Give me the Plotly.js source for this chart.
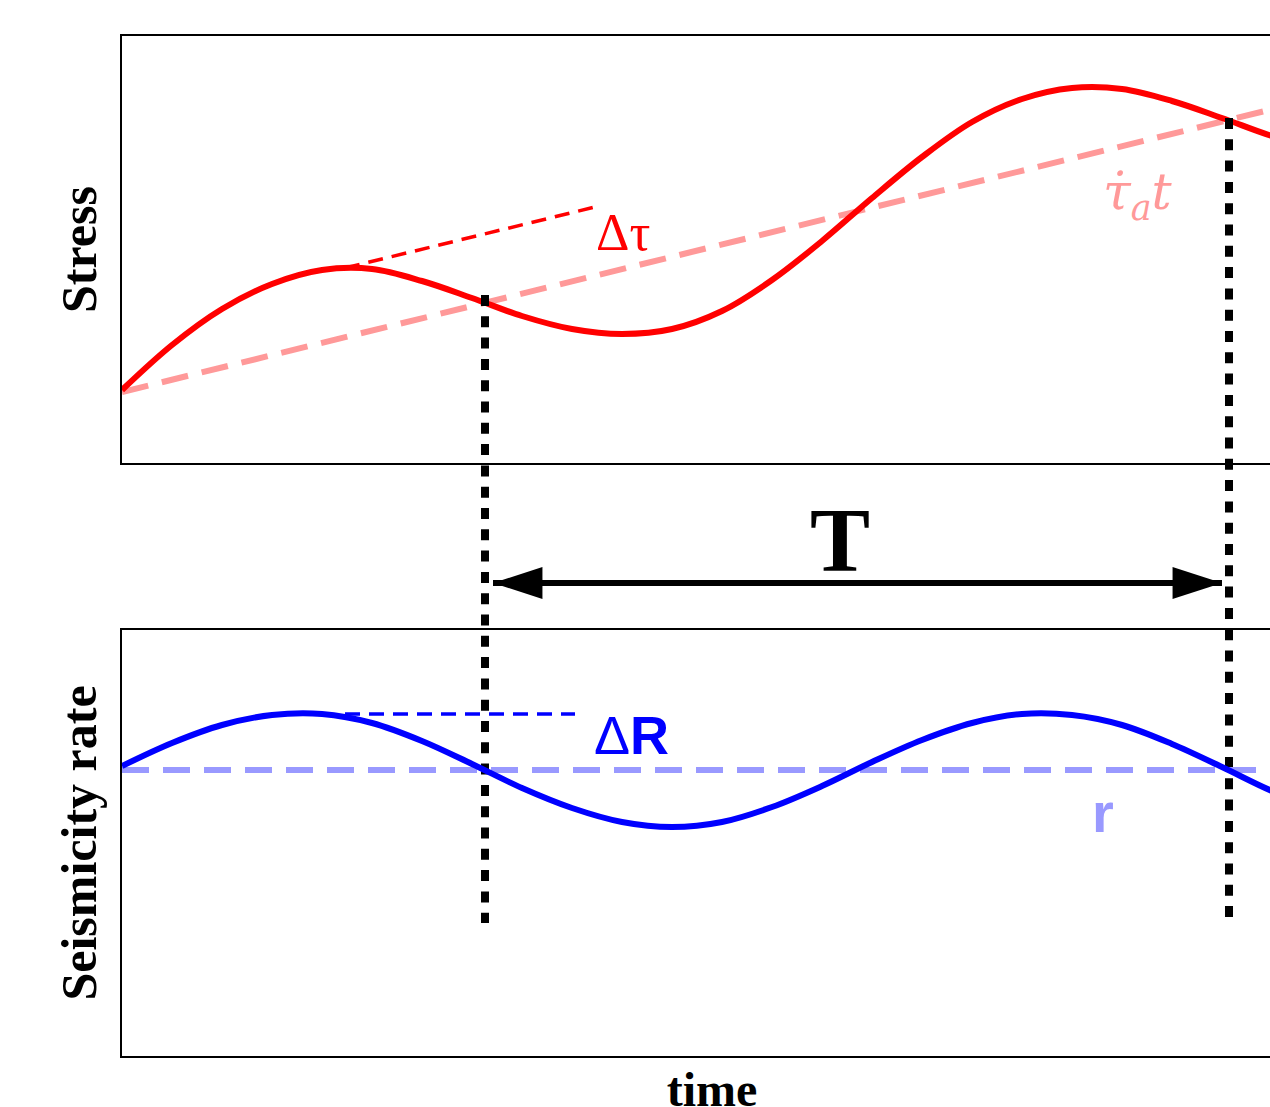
<!DOCTYPE html>
<html>
<head>
<meta charset="utf-8">
<script src="https://cdn.plot.ly/plotly-3.0.1.min.js"></script>
<style>
  html, body { margin: 0; padding: 0; overflow: hidden; background: #ffffff; }
  #chart { width: 1312px; height: 1135px; }
</style>
</head>
<body>
<div id="chart"></div>
<script>
// ---- data ----
const timeGrid = [0, 0.5, 1, 1.5, 2, 2.5, 3, 3.5, 4, 4.5, 5, 5.5, 6, 6.5, 7, 7.5, 8, 8.5, 9, 9.5, 10, 10.5, 11, 11.5, 12];
const stress   = [0.73, 1.18, 1.54, 1.79, 1.93, 1.94, 1.82, 1.65, 1.47, 1.34, 1.29, 1.34, 1.52, 1.83, 2.22, 2.65, 3.06, 3.41, 3.64, 3.75, 3.74, 3.62, 3.45, 3.27, 3.14];
const rate     = [2.90, 3.13, 3.31, 3.41, 3.42, 3.33, 3.15, 2.92, 2.68, 2.48, 2.34, 2.29, 2.34, 2.49, 2.70, 2.94, 3.16, 3.33, 3.42, 3.41, 3.31, 3.12, 2.89, 2.65, 2.46];

const trendTime   = [0, 12];
const trendStress = [0.71, 3.66];          // tau_dot_a * t
const baseTime    = [0, 12];
const baseRate    = [2.86, 2.86];          // r

const dTauTime  = [2.23, 4.73];
const dTauValue = [1.95, 2.56];            // delta tau guide
const dRTime    = [2.23, 4.53];
const dRValue   = [3.42, 3.42];            // delta R guide

// period markers, in whole-figure height units
const periodTime   = [3.63, 11.07];
const periodTop    = [7.61, 9.38];
const periodBottom = [1.33, 1.38];
const arrowTime    = [3.71, 11.00];
const arrowLevel   = [4.73, 4.73];

const labels = {
  stressTitle: 'Stress',
  rateTitle: 'Seismicity rate',
  timeTitle: 'time',
  dTau: 'Δτ',
  trend: '<i>τ̇</i><sub><i>a</i></sub><i>t</i>',
  dR: 'Δ<b>R</b>',
  r: '<b>r</b>',
  period: '<b>T</b>'
};

const RED = '#ff0000', PINK = '#ff9999', BLUE = '#0000ff', LBLUE = '#9999ff';

const traces = [
  { x: trendTime, y: trendStress, xaxis: 'x', yaxis: 'y', mode: 'lines',
    line: { color: PINK, width: 6, dash: '27px,14px' }, hoverinfo: 'skip' },
  { x: timeGrid, y: stress, xaxis: 'x', yaxis: 'y', mode: 'lines',
    line: { color: RED, width: 6, shape: 'spline', smoothing: 1 }, hoverinfo: 'skip' },
  { x: dTauTime, y: dTauValue, xaxis: 'x', yaxis: 'y', mode: 'lines',
    line: { color: RED, width: 3.5, dash: '15px,9px' }, hoverinfo: 'skip' },

  { x: baseTime, y: baseRate, xaxis: 'x2', yaxis: 'y2', mode: 'lines',
    line: { color: LBLUE, width: 6, dash: '27px,14px' }, hoverinfo: 'skip' },
  { x: timeGrid, y: rate, xaxis: 'x2', yaxis: 'y2', mode: 'lines',
    line: { color: BLUE, width: 6, shape: 'spline', smoothing: 1 }, hoverinfo: 'skip' },
  { x: dRTime, y: dRValue, xaxis: 'x2', yaxis: 'y2', mode: 'lines',
    line: { color: BLUE, width: 3.5, dash: '15px,9px' }, hoverinfo: 'skip' },

  // double-headed arrow for the period T
  { x: arrowTime, y: arrowLevel, xaxis: 'x', yaxis: 'y3', mode: 'lines+markers',
    line: { color: '#000000', width: 6 },
    marker: { symbol: 'arrow', size: 52, angle: [-90, 90], color: '#000000', line: { width: 0 } },
    hoverinfo: 'skip' }
];

for (let i = 0; i < periodTime.length; i++) {
  traces.push({ x: [periodTime[i], periodTime[i]], y: [periodTop[i], periodBottom[i]],
    xaxis: 'x', yaxis: 'y3', mode: 'lines',
    line: { color: '#000000', width: 8, dash: '11px,10.3px' }, hoverinfo: 'skip' });
}

const frameAxis = { showline: true, linecolor: '#000000', linewidth: 2, mirror: true,
  showgrid: false, zeroline: false, showticklabels: false, ticks: '' };

const layout = {
  width: 1312, height: 1135,
  margin: { l: 122, r: 10, t: 36, b: 79 },
  paper_bgcolor: '#ffffff', plot_bgcolor: 'rgba(0,0,0,0)',
  showlegend: false,
  xaxis:  Object.assign({}, frameAxis, { range: [0, 11.80], domain: [0, 1], anchor: 'y' }),
  yaxis:  Object.assign({}, frameAxis, { range: [0, 4.27], domain: [0.58137, 1], anchor: 'x',
    title: { text: labels.stressTitle, standoff: 7,
      font: { family: 'Liberation Serif', size: 50, weight: 'bold', color: '#000000' } } }),
  xaxis2: Object.assign({}, frameAxis, { range: [0, 11.80], domain: [0, 1], anchor: 'y2',
    title: { text: labels.timeTitle, standoff: 15,
      font: { family: 'Liberation Serif', size: 48, weight: 'bold', color: '#000000' } } }),
  yaxis2: Object.assign({}, frameAxis, { range: [0, 4.26], domain: [0, 0.41765], anchor: 'x2',
    title: { text: labels.rateTitle, standoff: 7,
      font: { family: 'Liberation Serif', size: 50, weight: 'bold', color: '#000000' } } }),
  yaxis3: { range: [0, 10.20], domain: [0, 1], anchor: 'x', visible: false,
    showgrid: false, zeroline: false },
  annotations: [
    { x: 5.01, y: 2.31, xref: 'x', yref: 'y', text: labels.dTau, showarrow: false,
      font: { family: 'Liberation Serif', size: 52, color: RED } },
    { x: 10.16, y: 2.68, xref: 'x', yref: 'y', text: labels.trend, showarrow: false,
      font: { family: 'DejaVu Serif', size: 50, color: PINK } },
    { x: 5.09, y: 3.21, xref: 'x2', yref: 'y2', text: labels.dR, showarrow: false,
      font: { family: 'Liberation Sans', size: 54, color: BLUE } },
    { x: 9.81, y: 2.43, xref: 'x2', yref: 'y2', text: labels.r, showarrow: false,
      font: { family: 'Liberation Sans', size: 56, color: LBLUE } },
    { x: 7.18, y: 5.16, xref: 'x', yref: 'y3', text: labels.period, showarrow: false,
      font: { family: 'Liberation Serif', size: 90, color: '#000000' } }
  ]
};

Plotly.newPlot('chart', traces, layout, { displayModeBar: false, staticPlot: true });
</script>
</body>
</html>
